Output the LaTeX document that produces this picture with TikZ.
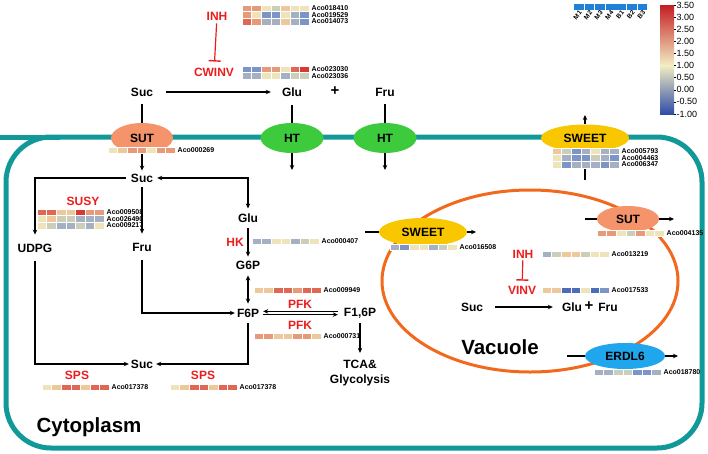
\documentclass[tikz,border=0pt]{standalone}
\usepackage{fontspec}
\setmainfont{Liberation Sans}
\setsansfont{Liberation Sans}
\usetikzlibrary{arrows.meta,shapes.geometric}

\definecolor{membrane}{HTML}{11999A}
\definecolor{vacline}{HTML}{F2691E}
\definecolor{sutfill}{HTML}{F5946B}
\definecolor{htfill}{HTML}{3DCB3D}
\definecolor{sweetfill}{HTML}{F8C700}
\definecolor{erdlfill}{HTML}{1FA6EC}
\definecolor{enzred}{HTML}{EC1C1C}
\definecolor{legblue}{HTML}{1F80D9}
\definecolor{cbred}{HTML}{C41E22}
\definecolor{cbmid}{HTML}{F3EDC2}
\definecolor{cbblue}{HTML}{2E4DA6}
\definecolor{hA}{HTML}{D5392F}
\definecolor{hB}{HTML}{DF6753}
\definecolor{hC}{HTML}{E79A7A}
\definecolor{hD}{HTML}{ECC89B}
\definecolor{hE}{HTML}{EFE3B9}
\definecolor{hF}{HTML}{CBCEB8}
\definecolor{hG}{HTML}{A5B1C3}
\definecolor{hH}{HTML}{7D95C6}
\definecolor{hI}{HTML}{4A6CB9}

\tikzset{
  met/.style = {font=\bfseries\fontsize{12}{15}\selectfont, inner sep=1pt},
  enz/.style = {met, text=enzred},
  big/.style = {font=\bfseries\fontsize{20.5}{22}\selectfont, inner sep=1pt},
  gene/.style = {font=\bfseries\fontsize{7}{8}\selectfont, inner sep=0pt},
  legtxt/.style = {font=\bfseries\fontsize{6.5}{7}\selectfont, inner sep=0pt},
  cbtxt/.style = {font=\fontsize{9}{10}\selectfont, inner sep=1pt},
  carrier/.style = {ellipse, inner sep=0pt, font=\bfseries\fontsize{12}{14}\selectfont},
  sut/.style = {carrier, fill=sutfill, minimum width=62pt},
  ht/.style = {carrier, fill=htfill, minimum width=63pt, minimum height=30pt},
  sweet/.style = {carrier, fill=sweetfill, minimum width=88pt},
  erdl/.style = {carrier, fill=erdlfill, minimum width=80pt, minimum height=26pt},
  flow/.style = {line width=1.1pt, ->, shorten <=4pt, shorten >=3pt},
  link/.style = {line width=1.1pt},
  inhib/.style = {line width=1.2pt, enzred, -{Bar[width=12pt,line width=1.4pt]}},
  memb/.style = {line width=5pt, membrane},
  vacwall/.style = {line width=3pt, vacline}
}

\newcommand{\hmrow}[5]{%
  \foreach \hc [count=\hi from 0] in {#3}
    \fill[\hc, draw=white, line width=0.3pt] ({#1+\hi*9.6},#2) rectangle ++(9.6,6.6);
  \node[gene, anchor=west] (#4) at ({#1+69.5},{#2+3.3}) {#5};
}

\begin{document}
\begin{tikzpicture}[x=1pt, y=-1pt, >={Stealth[length=5pt,width=4.5pt]}]
  \useasboundingbox (0,0) rectangle (708,453);

  \draw[memb] (0,137) -- (60,137);
  \draw[memb, rounded corners=45pt] (6,137) rectangle (702,448);
  \draw[vacwall] (530,281) ellipse [x radius=148pt, y radius=91pt];

  % outside the cell
  \node[met] (sucOut) at (142,92) {Suc};
  \node[met] (gluOut) at (292,92) {Glu};
  \node[met, font=\bfseries\fontsize{15}{15}\selectfont] (plusOut) at (335,91) {+};
  \node[met] (fruOut) at (385,92) {Fru};
  \node[enz] (inhT) at (217,16) {INH};
  \node[enz] (cwinv) at (214,72) {CWINV};

  % plasma membrane carriers
  \node[sut, minimum height=30pt] (sutM) at (142,138) {SUT};
  \node[ht] (htA) at (292,138) {HT};
  \node[ht] (htB) at (385,138) {HT};
  \node[sweet, minimum height=27pt] (sweetM) at (585,138) {SWEET};
  \coordinate (htAend) at (292,170);
  \coordinate (htBend) at (385,170);
  \coordinate (sweetUp) at (585,115);
  \coordinate (sweetDown) at (585,180);

  % cytoplasm
  \node[met] (sucC) at (142,178) {Suc};
  \node[met] (udpg) at (35,248) {UDPG};
  \node[met] (fruC) at (142,247) {Fru};
  \node[enz] (susy) at (83,201) {SUSY};
  \node[met] (gluC) at (248,218) {Glu};
  \node[enz] (hk) at (235,242) {HK};
  \node[met] (g6p) at (248,265) {G6P};
  \node[met] (f6p) at (248,313) {F6P};
  \node[met] (f16p) at (360,313) {F1,6P};
  \node[enz] (pfkA) at (300,304) {PFK};
  \node[enz] (pfkB) at (300,325) {PFK};
  \node[met, align=center] (tca) at (360,373) {TCA\&\\Glycolysis};
  \node[met] (sucB) at (142,364) {Suc};
  \node[enz] (spsA) at (77,375) {SPS};
  \node[enz] (spsB) at (203,375) {SPS};
  \node[big] (cyto) at (89,427) {Cytoplasm};

  % vacuole
  \node[sweet, minimum height=28pt] (sweetV) at (423,232) {SWEET};
  \node[sut, minimum height=26pt] (sutV) at (628,219) {SUT};
  \node[erdl] (erdlV) at (625,356) {ERDL6};
  \coordinate (sweetVin) at (365,232);
  \coordinate (sweetVout) at (476,232);
  \coordinate (sutVin) at (585,219);
  \coordinate (sutVout) at (674,219);
  \coordinate (erdlIn) at (567,356);
  \coordinate (erdlOut) at (678,356);
  \node[enz] (inhV) at (523,254) {INH};
  \node[enz] (vinv) at (522,290) {VINV};
  \node[met] (sucV) at (472,307) {Suc};
  \node[met] (gluV) at (572,307) {Glu};
  \node[met, font=\bfseries\fontsize{15}{15}\selectfont] (plusV) at (589,306) {+};
  \node[met] (fruV) at (608,307) {Fru};
  \node[big] (vac) at (500,347) {Vacuole};

  % connectors
  \draw[flow, shorten <=12pt, shorten >=10pt] (sucOut) -- (gluOut);
  \draw[inhib, shorten <=2pt, shorten >=5pt] (inhT) -- (cwinv);
  \draw[link, shorten <=7pt] (sucOut) -- (sutM);
  \draw[link, shorten <=7pt] (gluOut) -- (htA);
  \draw[link, shorten <=7pt] (fruOut) -- (htB);
  \draw[flow, shorten <=0pt, shorten >=2pt] (sutM) -- (sucC);
  \draw[flow, shorten <=0pt, shorten >=0pt] (htA) -- (htAend);
  \draw[flow, shorten <=0pt, shorten >=0pt] (htB) -- (htBend);
  \draw[flow, shorten <=0pt, shorten >=0pt] (sweetM) -- (sweetUp);
  \draw[link] (sweetM) -- (sweetDown);

  \draw[flow, shorten >=8pt] (sucC.west) -| (udpg.north);
  \draw[flow, shorten >=8pt] (sucC) -- (fruC);
  \draw[flow, <->, shorten <=4pt, shorten >=3pt] (gluC.north) |- (sucC.east);
  \draw[flow] (gluC) -- (g6p);
  \draw[flow, <->, shorten <=5pt, shorten >=4pt] (g6p) -- (f6p);
  \draw[flow, shorten <=8pt, shorten >=1pt] (fruC.south) |- (f6p.west);
  \draw[flow, shorten <=8pt, shorten >=1pt] (udpg.south) |- (sucB.west);
  \draw[flow, shorten <=5pt, shorten >=2pt] (f6p.south) |- (sucB.east);
  \draw[line width=0.8pt, ->, shorten <=5pt, shorten >=3pt] ([yshift=1.6pt]f16p.west) -- ([yshift=1.6pt]f6p.east);
  \draw[line width=0.8pt, ->, shorten <=3pt, shorten >=5pt] ([yshift=-1.6pt]f6p.east) -- ([yshift=-1.6pt]f16p.west);
  \draw[flow, shorten >=6pt] (f16p) -- (tca);

  \draw[link] (sweetVin) -- (sweetV);
  \draw[flow, shorten <=0pt, shorten >=0pt] (sweetV) -- (sweetVout);
  \draw[link] (sutVin) -- (sutV);
  \draw[flow, shorten <=0pt, shorten >=0pt] (sutV) -- (sutVout);
  \draw[link] (erdlIn) -- (erdlV);
  \draw[flow, shorten <=0pt, shorten >=0pt] (erdlV) -- (erdlOut);
  \draw[inhib, shorten <=1pt, shorten >=4pt] (inhV) -- (vinv);
  \draw[flow, shorten <=11pt, shorten >=8pt] (sucV) -- (gluV);

  % expression heatmaps
  \hmrow{242}{5}{hC,hC,hE,hF,hD,hE,hE}{g018410}{Aco018410}
  \hmrow{242}{11.6}{hC,hE,hH,hH,hE,hG,hH}{g019529}{Aco019529}
  \hmrow{242}{18.2}{hB,hC,hG,hG,hD,hG,hH}{g014073}{Aco014073}
  \hmrow{242}{66}{hH,hH,hC,hC,hE,hB,hA}{g023030}{Aco023030}
  \hmrow{242}{72.6}{hG,hG,hE,hE,hG,hF,hF}{g023036}{Aco023036}
  \hmrow{108}{147}{hE,hD,hC,hC,hE,hC,hC}{g000269}{Aco000269}
  \hmrow{552}{148}{hD,hF,hH,hG,hE,hG,hG}{g005793}{Aco005793}
  \hmrow{552}{154.6}{hE,hG,hH,hH,hF,hG,hH}{g004463}{Aco004463}
  \hmrow{552}{161.2}{hE,hH,hG,hG,hG,hH,hG}{g006347}{Aco006347}
  \hmrow{37}{209}{hB,hB,hD,hD,hA,hC,hC}{g009508}{Aco009508}
  \hmrow{37}{215.6}{hE,hD,hF,hF,hG,hG,hG}{g026490}{Aco026490}
  \hmrow{37}{222.2}{hE,hF,hG,hG,hF,hG,hE}{g009217}{Aco009217}
  \hmrow{252}{238}{hG,hG,hE,hE,hG,hF,hE}{g000407}{Aco000407}
  \hmrow{254}{287}{hD,hD,hB,hB,hC,hB,hB}{g009949}{Aco009949}
  \hmrow{254}{333}{hC,hC,hD,hD,hC,hC,hD}{g000731}{Aco000731}
  \hmrow{42}{384}{hE,hD,hB,hB,hD,hB,hB}{g017378a}{Aco017378}
  \hmrow{170}{384}{hE,hD,hB,hB,hD,hB,hB}{g017378b}{Aco017378}
  \hmrow{390}{244}{hG,hH,hE,hE,hG,hF,hE}{g016508}{Aco016508}
  \hmrow{597}{230}{hC,hC,hE,hF,hC,hE,hE}{g004135}{Aco004135}
  \hmrow{542}{251}{hG,hF,hD,hD,hF,hE,hE}{g013219}{Aco013219}
  \hmrow{542}{287}{hD,hD,hI,hI,hE,hI,hH}{g017533}{Aco017533}
  \hmrow{594}{369}{hG,hG,hF,hF,hH,hH,hG}{g018780}{Aco018780}

  % sample legend and colour bar
  \foreach \s [count=\k from 0] in {M1,M2,M3,M4,B1,B2,B3} {
    \fill[legblue] ({574+\k*10.6},4) rectangle ++(9.8,5.5);
    \node[legtxt, rotate=50, anchor=east] (leg\s) at ({580.5+\k*10.6},11.5) {\s};
  }
  \shade[top color=cbred, bottom color=cbmid] (660,5) rectangle (674,65.5);
  \shade[top color=cbmid, bottom color=cbblue] (660,65.5) rectangle (674,114);
  \foreach \v [count=\k from 0] in {3.50,3.00,2.50,2.00,1.50,1.00,0.50,0.00,-0.50,-1.00} {
    \draw[line width=0.4pt] (674,{5+\k*12.1}) -- ++(2,0);
    \node[cbtxt, anchor=west] (cb\k) at (675.5,{5+\k*12.1}) {\v};
  }
\end{tikzpicture}
\end{document}
